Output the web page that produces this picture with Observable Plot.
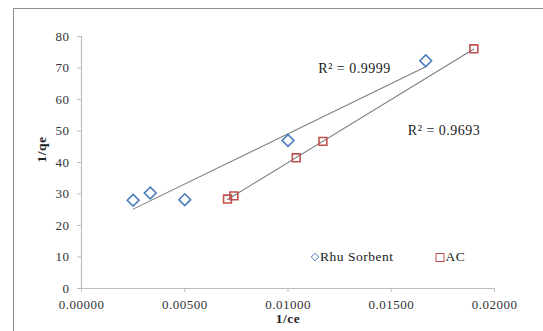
<!DOCTYPE html>
<html><head><meta charset="utf-8">
<script src="https://cdn.jsdelivr.net/npm/d3@7"></script>
<script src="https://cdn.jsdelivr.net/npm/@observablehq/plot@0.6"></script>
<style>
html,body{margin:0;padding:0;background:#fff;overflow:hidden;width:543px;height:331px;}
#wrap{position:relative;width:543px;height:331px;}
#frame{position:absolute;left:13px;top:8px;width:600px;height:400px;border:1.5px solid #8c8c8c;box-sizing:border-box;pointer-events:none;}
#legend{position:absolute;left:310px;top:249px;font-family:"Liberation Serif","Times New Roman",Times,serif;font-size:13.5px;letter-spacing:0.5px;color:#222;white-space:nowrap;}
#legend span.m{display:inline-block;vertical-align:middle;}
svg, svg text{font-family:"Liberation Serif","Times New Roman",Times,serif !important;}
</style></head>
<body><div id="wrap"><div id="frame"></div></div>
<script>
const rhuX = [0.0025, 0.00333, 0.0050, 0.0100, 0.01667];
const rhuY = [28.0, 30.3, 28.2, 47.0, 72.3];
const acX = [0.00707, 0.00738, 0.0104, 0.01169, 0.0190];
const acY = [28.4, 29.4, 41.5, 46.7, 76.1];
const xTicks = [0, 0.005, 0.01, 0.015, 0.02];
const yTicks = [0, 10, 20, 30, 40, 50, 60, 70, 80];
const seriesNames = ["Rhu Sorbent", "AC"];
const r2Labels = ["R\u00b2 = 0.9999", "R\u00b2 = 0.9693"];
const colors = ["#4a7ebb", "#c0504d"];

const rhu = rhuX.map((x, i) => ({x, y: rhuY[i]}));
const ac = acX.map((x, i) => ({x, y: acY[i]}));

const plot = Plot.plot({
  width: 543, height: 331,
  marginLeft: 81, marginRight: 49, marginTop: 36, marginBottom: 43,
  style: {fontFamily: "'Liberation Serif', 'Times New Roman', serif", fontSize: "13px", background: "transparent", color: "#222"},
  x: {domain: [0, 0.02], label: null},
  y: {domain: [0, 80], label: null},
  marks: [
    Plot.ruleX([0], {stroke: "#bdbdbd", strokeWidth: 1.2}),
    Plot.ruleY([0], {stroke: "#bdbdbd", strokeWidth: 1.2}),
    Plot.axisX({ticks: xTicks, tickFormat: d3.format(".5f"), tickSize: 4, stroke: "#bdbdbd", tickPadding: 7, fill: "#333", fontSize: 13, label: null}),
    Plot.axisY({ticks: yTicks, tickSize: 4, stroke: "#bdbdbd", tickPadding: 8, fill: "#333", fontSize: 13, label: null}),
    Plot.linearRegressionY(rhu, {x: "x", y: "y", ci: 0, stroke: "#7f7f7f", strokeWidth: 1.1}),
    Plot.linearRegressionY(ac, {x: "x", y: "y", ci: 0, stroke: "#7f7f7f", strokeWidth: 1.1}),
    Plot.dot(rhu, {x: "x", y: "y", symbol: "diamond2", r: 5.3, stroke: colors[0], strokeWidth: 1.6, fill: "none"}),
    Plot.dot(ac, {x: "x", y: "y", symbol: "square2", r: 5, stroke: colors[1], strokeWidth: 1.6, fill: "none"}),
    Plot.text([rhu[rhu.length - 1]], {x: "x", y: "y", text: () => r2Labels[0], textAnchor: "end", dx: -35, dy: 8, fontSize: 14, fill: "#222"}),
    Plot.text([ac[ac.length - 1]], {x: "x", y: "y", text: () => r2Labels[1], textAnchor: "start", dx: -66, dy: 82, fontSize: 14, fill: "#222"}),
    Plot.text(["1/ce"], {frameAnchor: "bottom", dy: 34, text: d => d, fontWeight: "bold", fontSize: 13.5, fill: "#222"}),
    Plot.text(["1/qe"], {frameAnchor: "left", dx: -40, text: d => d, rotate: -90, fontWeight: "bold", fontSize: 13.5, fill: "#222"})
  ]
});
plot.style.letterSpacing = "0.5px";
plot.style.position = "absolute";
plot.style.left = "0px";
plot.style.top = "0px";
const wrap = document.getElementById("wrap");
wrap.insertBefore(plot, wrap.firstChild);

const legend = document.createElement("div");
legend.id = "legend";
legend.innerHTML =
  `<span class="m"><svg width="10" height="10"><path d="M5,1.2L8.8,5L5,8.8L1.2,5Z" fill="none" stroke="${colors[0]}" stroke-width="1"/></svg></span>${seriesNames[0]}` +
  `<span class="m" style="margin-left:42px"><svg width="10" height="10"><rect x="1" y="1.5" width="8" height="8" fill="none" stroke="${colors[1]}" stroke-width="1"/></svg></span>${seriesNames[1]}`;
wrap.appendChild(legend);
</script>
</body></html>
